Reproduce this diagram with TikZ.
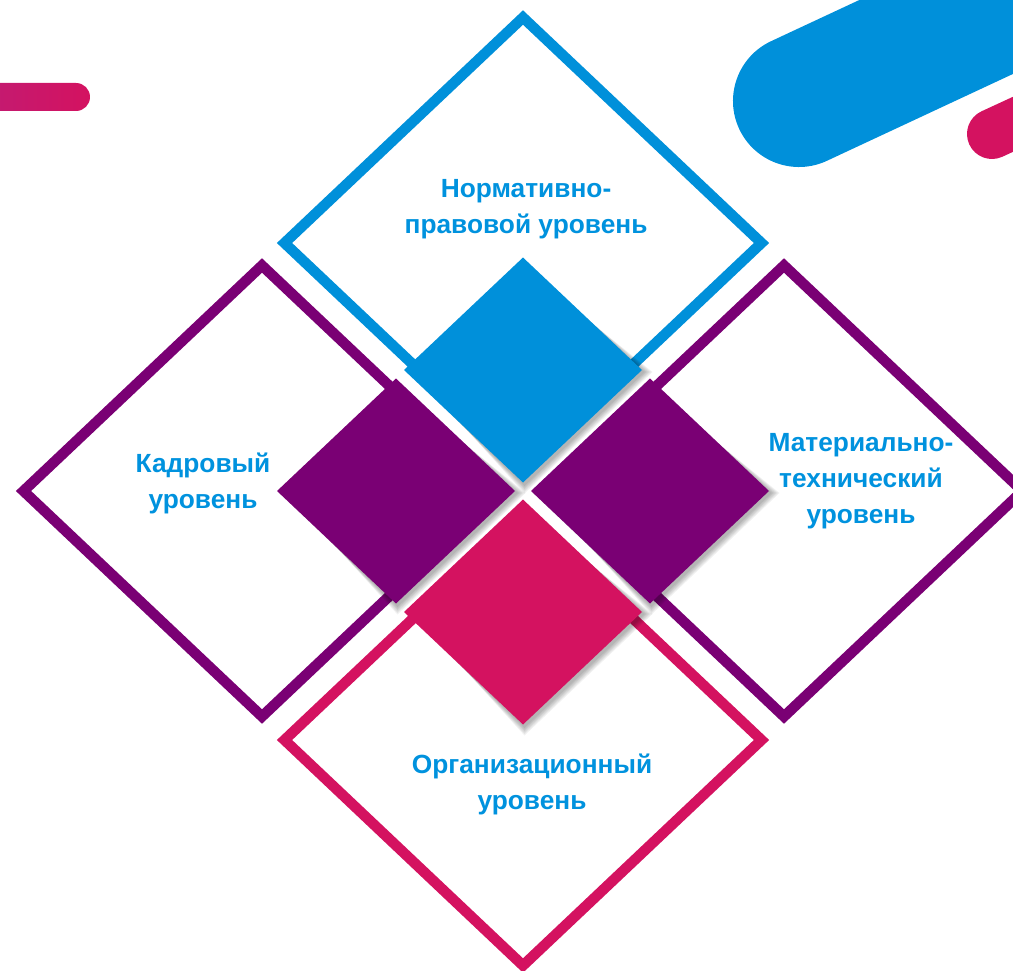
\documentclass[tikz,border=0pt]{standalone}
\usepackage{fontspec}
\setmainfont{Liberation Sans}
\usetikzlibrary{calc}
\definecolor{lvlblue}{RGB}{0,144,218}
\definecolor{lvlpurple}{RGB}{122,0,116}
\definecolor{lvlpink}{RGB}{212,18,96}
\definecolor{barpink}{RGB}{196,26,112}
\definecolor{txtblue}{RGB}{0,146,222}
% rhombus: centre x, centre y, half width, half height
\newcommand{\romb}[4]{(#1-#3,#2) -- (#1,#2-#4) -- (#1+#3,#2) -- (#1,#2+#4) -- cycle}
\tikzset{
  frameline/.style={line width=10.5pt, line join=miter},
  lvltext/.style={text=txtblue, font=\bfseries\fontsize{26.3}{36}\selectfont,
                  align=center, inner sep=0pt},
  softshadow/.style={fill=black, opacity=0.055}
}

\begin{document}
\begin{tikzpicture}[x=1pt, y=-1pt]
  \useasboundingbox (0,0) rectangle (1013,971);
  \clip (0,0) rectangle (1013,971);

  % decor
  \shade[left color=barpink, right color=lvlpink]
    (-5,83) -- (76,83) arc (-90:90:14) -- (-5,111) -- cycle;
  \draw[lvlblue, line width=132pt, line cap=round] (799,101) -- (1161,-68);
  \draw[lvlpink, line width=50pt, line cap=round] (992,134) -- (1083,92);

  % outline frames
  \draw[frameline, lvlblue]   \romb{523}{243}{238.5}{225.5};
  \draw[frameline, lvlpurple] \romb{262}{491}{238.5}{225.5};
  \draw[frameline, lvlpurple] \romb{784}{491}{238.5}{225.5};
  \draw[frameline, lvlpink]   \romb{523}{740}{238.5}{225.5};

  % shadows of the filled squares
  \foreach \cx/\cy in {523/370, 396/491, 650/491, 523/612}
    \foreach \s in {1,...,6}
      \fill[softshadow] \romb{\cx+1.5}{\cy+2}{119+\s*1.5}{112.5+\s*1.5};

  % filled squares
  \fill[lvlblue]   \romb{523}{370}{119}{112.5};
  \fill[lvlpurple] \romb{396}{491}{119}{112.5};
  \fill[lvlpurple] \romb{650}{491}{119}{112.5};
  \fill[lvlpink]   \romb{523}{612}{119}{112.5};

  % labels
  \node[lvltext] (norm) at (526,209) {Нормативно-\\правовой уровень};
  \node[lvltext] (kadr) at (203,483) {Кадровый\\уровень};
  \node[lvltext] (mat)  at (861,481) {Материально-\\технический\\уровень};
  \node[lvltext] (org)  at (532,784) {Организационный\\уровень};
\end{tikzpicture}
\end{document}
